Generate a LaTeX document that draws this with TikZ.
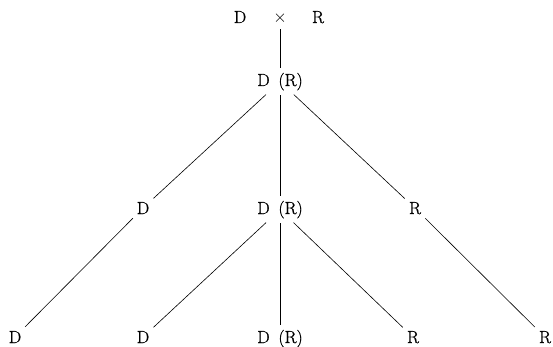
\documentclass[tikz,border=0pt]{standalone}
\usepackage{fontspec}
\setmainfont{Latin Modern Roman}[FakeBold=0.8]
\begin{document}
\begin{tikzpicture}[x=1pt,y=-1pt,
    gen/.style={font=\fontsize{17.5}{20}\selectfont, inner sep=3pt, anchor=base},
    branch/.style={line width=0.6pt, shorten <=1.5pt, shorten >=1.5pt}]
    \useasboundingbox (0,0) rectangle (553,347);

    % Parents
    \node[gen] (pD) at (240,23) {D};
    \node[gen] (cross) at (280,23) {$\times$};
    \node[gen] (pR) at (318,23) {R};

    % First generation
    \node[gen] (f1) at (280,86) {D\enspace(R)};

    % Second generation
    \node[gen] (d2) at (143,214) {D};
    \node[gen] (dr2) at (280,214) {D\enspace(R)};
    \node[gen] (r2) at (415,214) {R};

    % Third generation
    \node[gen] (d3a) at (15,343) {D};
    \node[gen] (d3b) at (143,343) {D};
    \node[gen] (dr3) at (280,343) {D\enspace(R)};
    \node[gen] (r3a) at (413,343) {R};
    \node[gen] (r3b) at (545,343) {R};

    % Lines of descent
    \draw[branch] (cross) -- (f1);
    \draw[branch] (f1) -- (d2);
    \draw[branch] (f1) -- (dr2);
    \draw[branch] (f1) -- (r2);
    \draw[branch] (d2) -- (d3a);
    \draw[branch] (dr2) -- (d3b);
    \draw[branch] (dr2) -- (dr3);
    \draw[branch] (dr2) -- (r3a);
    \draw[branch] (r2) -- (r3b);
\end{tikzpicture}
\end{document}
